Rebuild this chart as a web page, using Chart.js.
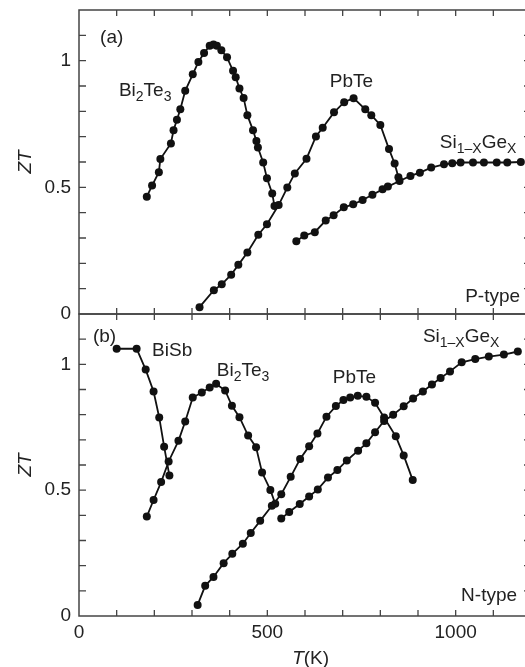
<!DOCTYPE html>
<html>
<head>
<meta charset="utf-8">
<script src="https://cdn.jsdelivr.net/npm/chart.js@4.4.0/dist/chart.umd.min.js"></script>
<style>
  html, body { margin: 0; padding: 0; background: #fff; overflow: hidden; }
  #wrap { position: relative; width: 525px; height: 667px; overflow: hidden; }
  canvas { position: absolute; left: 0; }
  #chartA { top: 0; }
  #chartB { top: 300px; }
</style>
</head>
<body>
<div id="wrap">
  <canvas id="chartA" width="540" height="340"></canvas>
  <canvas id="chartB" width="540" height="367"></canvas>
</div>
<script>
// (a) P-type, temperature in K and ZT
const pBi2Te3T  = [180, 194, 212, 216, 244, 251, 260, 269, 282, 302, 317, 332, 347, 357, 366, 378, 393, 409, 416, 426, 437, 447, 462, 471, 475, 489, 499, 513, 519];
const pBi2Te3ZT = [0.463, 0.507, 0.56, 0.612, 0.673, 0.725, 0.767, 0.808, 0.881, 0.946, 0.995, 1.03, 1.059, 1.064, 1.059, 1.041, 1.013, 0.96, 0.935, 0.89, 0.853, 0.785, 0.725, 0.683, 0.657, 0.598, 0.536, 0.476, 0.426];
const pPbTeT  = [320, 358, 379, 404, 423, 447, 476, 499, 530, 553, 573, 604, 629, 647, 677, 704, 729, 760, 776, 800, 823, 838, 848];
const pPbTeZT = [0.027, 0.094, 0.117, 0.155, 0.194, 0.243, 0.313, 0.354, 0.43, 0.499, 0.555, 0.613, 0.701, 0.735, 0.796, 0.836, 0.852, 0.808, 0.785, 0.746, 0.651, 0.594, 0.54];
const pSiGeT  = [577, 598, 626, 655, 676, 703, 728, 753, 779, 806, 820, 851, 880, 905, 935, 969, 991, 1013, 1046, 1075, 1109, 1137, 1173];
const pSiGeZT = [0.287, 0.31, 0.323, 0.369, 0.39, 0.421, 0.433, 0.45, 0.471, 0.492, 0.503, 0.525, 0.545, 0.558, 0.578, 0.591, 0.595, 0.598, 0.598, 0.598, 0.598, 0.598, 0.6];

// (b) N-type
const nBiSbT  = [100, 153, 177, 198, 213, 226, 240];
const nBiSbZT = [1.062, 1.062, 0.979, 0.892, 0.789, 0.673, 0.558];
const nBi2Te3T  = [180, 198, 218, 238, 264, 282, 302, 326, 347, 364, 388, 406, 426, 449, 470, 486, 508, 521];
const nBi2Te3ZT = [0.395, 0.461, 0.532, 0.614, 0.696, 0.773, 0.868, 0.888, 0.908, 0.923, 0.896, 0.835, 0.79, 0.717, 0.671, 0.57, 0.501, 0.446];
const nPbTeT  = [315, 335, 357, 384, 407, 435, 456, 481, 512, 537, 562, 587, 611, 633, 657, 682, 702, 720, 740, 763, 786, 810, 841, 862, 886];
const nPbTeZT = [0.044, 0.12, 0.155, 0.21, 0.247, 0.287, 0.33, 0.378, 0.438, 0.484, 0.553, 0.624, 0.675, 0.725, 0.792, 0.834, 0.858, 0.868, 0.875, 0.871, 0.847, 0.789, 0.714, 0.638, 0.54];
const nSiGeT  = [537, 558, 586, 611, 634, 661, 686, 711, 741, 763, 786, 810, 834, 862, 887, 913, 937, 960, 985, 1016, 1052, 1088, 1128, 1165];
const nSiGeZT = [0.387, 0.413, 0.445, 0.475, 0.503, 0.55, 0.58, 0.618, 0.657, 0.686, 0.73, 0.775, 0.8, 0.833, 0.864, 0.892, 0.92, 0.946, 0.972, 1.008, 1.021, 1.031, 1.039, 1.051];

const xTicks = [0, 500, 1000];
const yTicks = [0, 0.5, 1];

const FONT = "'Liberation Sans', Arial, sans-serif";
const INK = '#222';
Chart.defaults.font.family = FONT;
Chart.defaults.color = INK;

function series(xs, ys) {
  return {
    data: xs.map((x, i) => ({ x: x, y: ys[i] })),
    borderColor: '#111',
    borderWidth: 1.8,
    pointRadius: 4,
    pointBackgroundColor: '#111',
    pointBorderWidth: 0,
    tension: 0
  };
}

// draws a label made of normal and subscript parts
function drawRich(ctx, x, y, parts, align) {
  const big = '19px ' + FONT, small = '14px ' + FONT;
  let w = 0;
  parts.forEach(p => { ctx.font = p.sub ? small : big; w += ctx.measureText(p.t).width; });
  let cx = align === 'right' ? x - w : x;
  parts.forEach(p => {
    ctx.font = p.sub ? small : big;
    ctx.fillText(p.t, cx, y + (p.sub ? 5 : 0));
    cx += ctx.measureText(p.t).width;
  });
}

// box with inward ticks on all four sides, plus text labels
const frame = {
  id: 'frame',
  afterDraw(chart, args, opts) {
    const { ctx, chartArea: a } = chart;
    const x = chart.scales.x, y = chart.scales.y;
    ctx.save();
    ctx.strokeStyle = '#444';
    ctx.lineWidth = 1.5;
    ctx.strokeRect(a.left, a.top, a.right - a.left, a.bottom - a.top);
    ctx.lineWidth = 1.3;
    ctx.beginPath();
    for (let t = 100; t < 1200; t += 100) {
      const px = x.getPixelForValue(t);
      ctx.moveTo(px, a.top); ctx.lineTo(px, a.top + 6);
      ctx.moveTo(px, a.bottom); ctx.lineTo(px, a.bottom - 6);
    }
    for (let k = 1; k < 12; k++) {
      const py = y.getPixelForValue(k / 10);
      ctx.moveTo(a.left, py); ctx.lineTo(a.left + 7, py);
      ctx.moveTo(a.right, py); ctx.lineTo(a.right - 7, py);
    }
    ctx.stroke();

    ctx.fillStyle = INK;
    ctx.textBaseline = 'alphabetic';
    (opts.labels || []).forEach(l => {
      const px = x.getPixelForValue(l.x);
      const py = y.getPixelForValue(l.y) + 7;
      drawRich(ctx, px, py, l.parts, l.align);
    });

    if (opts.xTitle) {
      const cx = x.getPixelForValue(615);
      const cy = a.bottom + 48;
      ctx.font = 'italic 19px ' + FONT;
      const w1 = ctx.measureText('T').width;
      ctx.font = '19px ' + FONT;
      const w2 = ctx.measureText('(K)').width;
      let sx = cx - (w1 + w2) / 2;
      ctx.font = 'italic 19px ' + FONT;
      ctx.fillText('T', sx, cy);
      ctx.font = '19px ' + FONT;
      ctx.fillText('(K)', sx + w1, cy);
    }
    ctx.restore();
  }
};

function yScale() {
  return {
    type: 'linear',
    min: 0,
    max: 1.2,
    afterBuildTicks: s => { s.ticks = yTicks.map(v => ({ value: v })); },
    afterFit: s => { s.width = 79; s.paddingTop = 0; s.paddingBottom = 0; },
    ticks: { font: { size: 19 }, color: INK, padding: 8, callback: v => String(v) },
    grid: { display: false, drawTicks: false },
    border: { display: false },
    title: { display: true, text: 'ZT', color: INK, font: { size: 19, style: 'italic' }, padding: { top: 14, bottom: 0 } }
  };
}

function baseOptions(xShown, padding, plugOpts) {
  return {
    responsive: false,
    animation: false,
    layout: { padding: padding },
    plugins: { legend: { display: false }, tooltip: { enabled: false }, frame: plugOpts },
    scales: {
      x: {
        type: 'linear',
        min: 0,
        max: 1200,
        display: xShown,
        afterBuildTicks: s => { s.ticks = xTicks.map(v => ({ value: v })); },
        afterFit: s => { if (xShown) s.height = 51; s.paddingLeft = 0; s.paddingRight = 0; },
        ticks: { font: { size: 19 }, color: INK, padding: 5, maxRotation: 0, callback: v => String(v) },
        grid: { display: false, drawTicks: false },
        border: { display: false }
      },
      y: yScale()
    }
  };
}

const S = (t, sub) => ({ t: t, sub: !!sub });

new Chart(document.getElementById('chartA'), {
  type: 'line',
  data: {
    datasets: [
      series(pBi2Te3T, pBi2Te3ZT),
      series(pPbTeT, pPbTeZT),
      series(pSiGeT, pSiGeZT)
    ]
  },
  options: baseOptions(false, { top: 10, right: 9, bottom: 26, left: 0 }, {
    labels: [
      { x: 56, y: 1.096, parts: [S('(a)')] },
      { x: 106, y: 0.89, parts: [S('Bi'), S('2', 1), S('Te'), S('3', 1)] },
      { x: 666, y: 0.922, parts: [S('PbTe')] },
      { x: 958, y: 0.683, parts: [S('Si'), S('1–X', 1), S('Ge'), S('X', 1)] },
      { x: 1171, y: 0.075, parts: [S('P-type')], align: 'right' }
    ]
  }),
  plugins: [frame]
});

new Chart(document.getElementById('chartB'), {
  type: 'line',
  data: {
    datasets: [
      series(nBiSbT, nBiSbZT),
      series(nBi2Te3T, nBi2Te3ZT),
      series(nPbTeT, nPbTeZT),
      series(nSiGeT, nSiGeZT)
    ]
  },
  options: baseOptions(true, { top: 14, right: 9, bottom: 0, left: 0 }, {
    xTitle: true,
    labels: [
      { x: 37, y: 1.118, parts: [S('(b)')] },
      { x: 194, y: 1.062, parts: [S('BiSb')] },
      { x: 366, y: 0.982, parts: [S('Bi'), S('2', 1), S('Te'), S('3', 1)] },
      { x: 674, y: 0.955, parts: [S('PbTe')] },
      { x: 913, y: 1.116, parts: [S('Si'), S('1–X', 1), S('Ge'), S('X', 1)] },
      { x: 1163, y: 0.087, parts: [S('N-type')], align: 'right' }
    ]
  }),
  plugins: [frame]
});
</script>
</body>
</html>
